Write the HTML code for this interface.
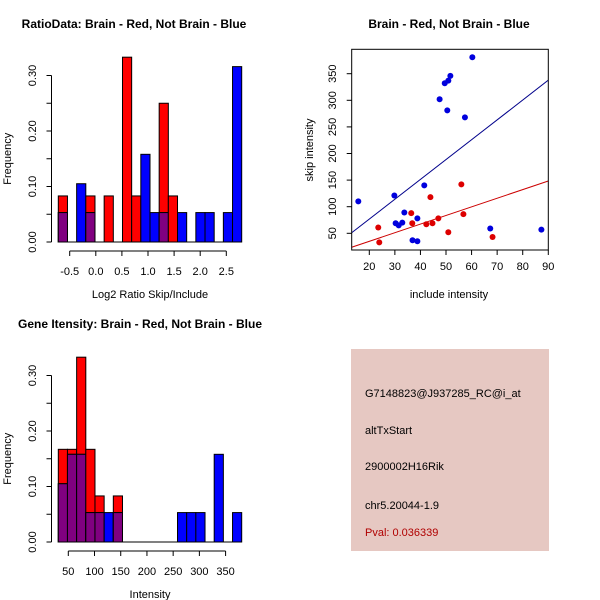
<!DOCTYPE html>
<html><head><meta charset="utf-8"><style>
body{margin:0;background:#fff;}
svg{display:block;font-family:"Liberation Sans",sans-serif;}
</style></head><body>
<svg id="c" width="600" height="600" viewBox="0 0 600 600">
<rect width="600" height="600" fill="#fff"/>
<g>
<rect x="351" y="349" width="198" height="202" fill="#E6C8C2"/>
<text x="365" y="397" font-size="11" fill="#000">G7148823@J937285_RC@i_at</text>
<text x="365" y="434" font-size="11" fill="#000">altTxStart</text>
<text x="365" y="470" font-size="11" fill="#000">2900002H16Rik</text>
<text x="365" y="509" font-size="11" fill="#000">chr5.20044-1.9</text>
<text x="365" y="536" font-size="11" fill="#b00000">Pval: 0.036339</text>
</g>
</svg>
<script>
// ---- histogram 1 data (20 bins) ----
const ratioRed  = [0.083,0,0,0.083,0,0.083,0,0.333,0.083,0,0,0.25,0.083,0,0,0,0,0,0,0];
const ratioBlue = [0.053,0,0.105,0.053,0,0,0,0,0,0.158,0.053,0.053,0,0.053,0,0.053,0.053,0,0.053,0.316];
const ratioTicks = [-0.5,0,0.5,1,1.5,2,2.5];
const ratioTickLabels = ["-0.5","0.0","0.5","1.0","1.5","2.0","2.5"];
// ---- histogram 2 data (20 bins) ----
const intRed  = [0.167,0.167,0.333,0.167,0.083,0,0.083,0,0,0,0,0,0,0,0,0,0,0,0,0];
const intBlue = [0.105,0.158,0.158,0.053,0.053,0.053,0.053,0,0,0,0,0,0,0.053,0.053,0.053,0,0.158,0,0.053];
const intTicks = [50,100,150,200,250,300,350];
const freqTicks = [0,0.05,0.1,0.15,0.2,0.25,0.3];
const freqLabels = {"0":"0.00","0.1":"0.10","0.2":"0.20","0.3":"0.30"};
// ---- scatter data ----
const blueX = [15.7,29.8,30.3,31.5,32.9,33.7,36.9,38.8,38.8,41.5,47.5,49.5,50.9,51.7,50.5,57.4,60.3,67.3,87.3];
const blueY = [110,121,69,65,70,89,37,35,78,140,302,332,337,346,281,268,381,59,57];
const redX = [23.5,23.9,36.4,36.8,42.3,43.9,44.7,47.0,50.9,56.0,56.8,68.2];
const redY = [61,33,88,69,67,118,69,78,52,142,86,43];
const blueFit = [2.1,3.73]; // intercept, slope
const redFit = [2.5,1.62];
const scXTicks = [20,30,40,50,60,70,80,90];
const scYTicks = [50,100,150,200,250,300,350];

const svg = document.getElementById('c');
const NS = 'http://www.w3.org/2000/svg';
function mk(tag, attrs, parent){
  const e = document.createElementNS(NS, tag);
  for (const k in attrs) e.setAttribute(k, attrs[k]);
  (parent||svg).appendChild(e);
  return e;
}

function hist(opts){
  const g = mk('g', {});
  
  
  const y = v => opts.y0 - v * opts.yScale;
  const bw = (opts.x1 - opts.x0) / opts.red.length;
  for (let i = 0; i < opts.red.length; i++) {
    const r = opts.red[i], b = opts.blue[i], xl = opts.x0 + i * bw;
    if (r > 0) {
      const e = mk('rect', {x:xl, y:y(r), width:bw, height:r*opts.yScale, fill:'#ff0000', stroke:'#000', 'stroke-width':1}, g);
      
      
    }
    if (b > 0) {
      const e = mk('rect', {x:xl, y:y(b), width:bw, height:b*opts.yScale, fill:'#0000ff', stroke:'#000', 'stroke-width':1}, g);
      
      
    }
    const m = Math.min(r, b);
    if (m > 0) {
      const e = mk('rect', {x:xl, y:y(m), width:bw, height:m*opts.yScale, fill:'#800080', stroke:'#000', 'stroke-width':1}, g);
      
      
    }
  }
  mk('line', {x1:opts.x0, x2:opts.x1, y1:opts.y0, y2:opts.y0, stroke:'#000'}, g);
  const ax = 51.5;
  mk('line', {x1:ax, x2:ax, y1:y(0), y2:y(0.3), stroke:'#000'}, g);
  freqTicks.forEach(t => {
    mk('line', {x1:ax-5, x2:ax, y1:y(t), y2:y(t), stroke:'#000'}, g);
    const lab = freqLabels[String(+t.toFixed(2))];
    if (lab) {
      const tx = mk('text', {x:0, y:0, 'font-size':11, 'text-anchor':'middle', transform:`translate(36,${y(t)}) rotate(-90)`}, g);
      tx.textContent = lab;
      
      
    }
  });
  const yl = mk('text', {x:0, y:0, 'font-size':11, 'text-anchor':'middle', transform:`translate(11,${(y(0)+y(0.3))/2}) rotate(-90)`}, g);
  yl.textContent = 'Frequency';
  
  
  const xs = v => opts.xa + (v - opts.ticks[0]) * opts.xScale;
  const axy = opts.y0 + 9;
  mk('line', {x1:xs(opts.ticks[0]), x2:xs(opts.ticks[opts.ticks.length-1]), y1:axy, y2:axy, stroke:'#000'}, g);
  opts.ticks.forEach((t, i) => {
    mk('line', {x1:xs(t), x2:xs(t), y1:axy, y2:axy+5, stroke:'#000'}, g);
    const tx = mk('text', {x:xs(t), y:axy+24, 'font-size':11, 'text-anchor':'middle'}, g);
    tx.textContent = opts.tickLabels[i];
    
    
  });
  const xl = mk('text', {x:150, y:opts.y0+56, 'font-size':11, 'text-anchor':'middle'}, g);
  xl.textContent = opts.xlabel;
  
  
  const ti = mk('text', {x:opts.tx, y:opts.y0-214, 'font-size':12, 'font-weight':'bold', 'text-anchor':'middle'}, g);
  ti.textContent = opts.title;
  
  
}

hist({name:'ratio-histogram', red:ratioRed, blue:ratioBlue, x0:58.3, x1:241.7, y0:242, yScale:555,
  ticks:ratioTicks, tickLabels:ratioTickLabels, xa:69.7, xScale:52.2, xlabel:'Log2 Ratio Skip/Include',
  title:'RatioData: Brain - Red, Not Brain - Blue', tx:134});
hist({name:'intensity-histogram', red:intRed, blue:intBlue, x0:58.3, x1:241.7, y0:542, yScale:555,
  ticks:intTicks, tickLabels:intTicks.map(String), xa:68.3, xScale:0.5243, xlabel:'Intensity',
  title:'Gene Itensity: Brain - Red, Not Brain - Blue', tx:140});

(function(){
  const g = mk('g', {});
  
  
  const L = 351.7, R = 548.3, T = 49.3, B = 250;
  const sx = v => 369.3 + (v - 20) * 2.557;
  const sy = v => 233.3 - (v - 50) * 0.532;
  const xmin = 13.1, xmax = 90;
  const cp = mk('clipPath', {id:'scclip'}, g);
  mk('rect', {x:L, y:T, width:R-L, height:B-T}, cp);
  [[blueFit,'#00008b','blue-fit-line'],[redFit,'#cc0000','red-fit-line']].forEach(([f,col,nm]) => {
    const l = mk('line', {x1:sx(xmin), y1:sy(f[0]+f[1]*xmin), x2:sx(xmax), y2:sy(f[0]+f[1]*xmax), stroke:col, 'stroke-width':1, 'clip-path':'url(#scclip)'}, g);
    
    
  });
  blueX.forEach((x, i) => {
    const c = mk('circle', {cx:sx(x), cy:sy(blueY[i]), r:3, fill:'#0000dd'}, g);
    
    
  });
  redX.forEach((x, i) => {
    const c = mk('circle', {cx:sx(x), cy:sy(redY[i]), r:3, fill:'#dd0000'}, g);
    
    
  });
  mk('rect', {x:L, y:T, width:R-L, height:B-T, fill:'none', stroke:'#000'}, g);
  scXTicks.forEach(t => {
    mk('line', {x1:sx(t), x2:sx(t), y1:B, y2:B+5, stroke:'#000'}, g);
    const tx = mk('text', {x:sx(t), y:B+20, 'font-size':11, 'text-anchor':'middle'}, g);
    tx.textContent = t;
    
    
  });
  scYTicks.forEach(t => {
    mk('line', {x1:L-5, x2:L, y1:sy(t), y2:sy(t), stroke:'#000'}, g);
    const tx = mk('text', {x:0, y:0, 'font-size':11, 'text-anchor':'middle', transform:`translate(336,${sy(t)}) rotate(-90)`}, g);
    tx.textContent = t;
    
    
  });
  const xl = mk('text', {x:449, y:298, 'font-size':11, 'text-anchor':'middle'}, g);
  xl.textContent = 'include intensity';
  
  
  const yl = mk('text', {x:0, y:0, 'font-size':11, 'text-anchor':'middle', transform:'translate(313,150) rotate(-90)'}, g);
  yl.textContent = 'skip intensity';
  
  
  const ti = mk('text', {x:449, y:28, 'font-size':12, 'font-weight':'bold', 'text-anchor':'middle'}, g);
  ti.textContent = 'Brain - Red, Not Brain - Blue';
  
  
})();
</script>
</body></html>
